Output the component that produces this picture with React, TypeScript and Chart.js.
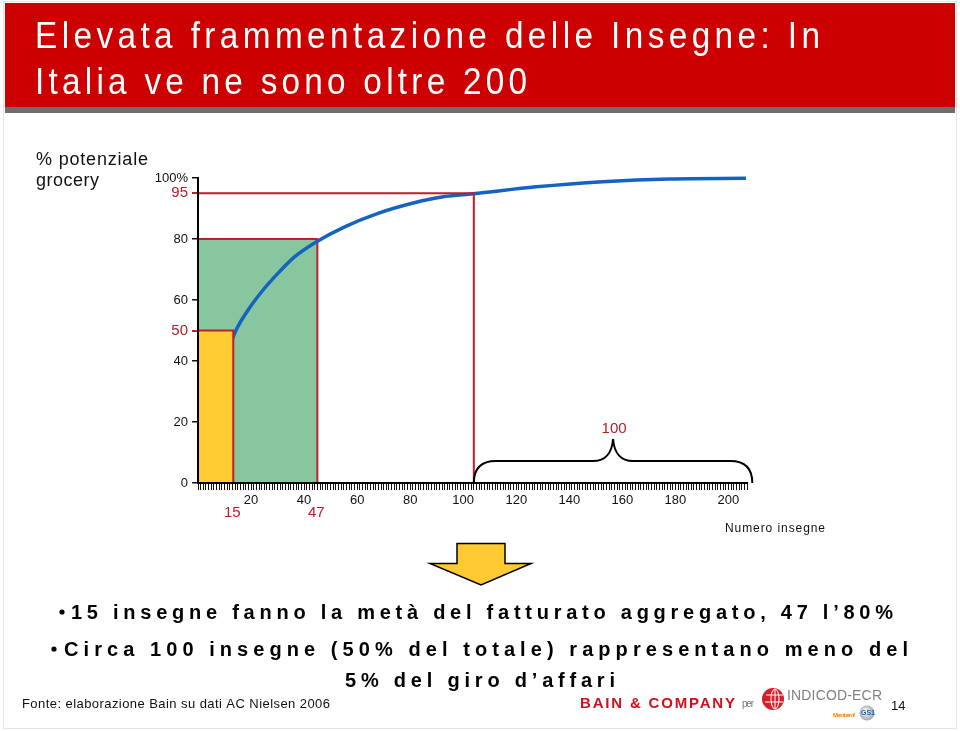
import React, { useEffect, useRef } from 'react';
import { Chart, registerables } from 'chart.js';

Chart.register(...registerables);

// ---------- data ----------
const xMax = 207;
const xTickLabelValues = [20, 40, 60, 80, 100, 120, 140, 160, 180, 200];
const yTickValues = [0, 20, 40, 50, 60, 80, 95, 100];
const yHighlightTicks = [50, 95];

// cumulative share curve (x = numero insegne, y = % potenziale grocery)
const curveX = [0.4, 13.3, 18.9, 24.0, 30.2, 36.5, 44.7, 55.3, 67.9, 80.8, 93.0, 103.7, 127.5, 152.6, 177.7, 206.6];
const curveY = [9.8, 48.0, 56.7, 62.7, 68.8, 74.2, 79.1, 84.0, 88.4, 91.7, 93.9, 94.8, 97.1, 98.8, 99.7, 99.9];

// highlighted boxes / guide lines (x position, y level)
const halfBoxX = 13.3;
const halfBoxY = 50;
const eightyBoxX = 45;
const eightyBoxY = 80;
const ninetyFiveX = 104;
const ninetyFiveY = 95;
const markerLabels = ['15', '47'];
const braceStart = 104;
const braceEnd = 209;
const braceLabel = '100';

const titleLines = ['Elevata frammentazione delle Insegne: In', 'Italia ve ne sono oltre 200'];
const bulletLines = [
  '15 insegne fanno la metà del fatturato aggregato, 47 l\u201980%',
  'Circa 100 insegne (50% del totale) rappresentano meno del',
  '5% del giro d\u2019affari',
];
const sourceText = 'Fonte: elaborazione Bain su dati AC Nielsen 2006';
const pageNumber = '14';

// ---------- styles ----------
const FAMILY = '"Liberation Sans", Arial, Helvetica, sans-serif';
const RED = '#BE1E2D';
const LABEL_RED = '#B5202A';
const YELLOW = '#FFCC33';
const GREEN = '#88C6A0';
const BLUE = '#1463BE';

function fitText(
  ctx: CanvasRenderingContext2D,
  text: string,
  x: number,
  y: number,
  width: number,
  font: string,
  color: string,
  sx = 1,
  align: 'left' | 'center' = 'left'
) {
  ctx.save();
  ctx.font = font;
  ctx.fillStyle = color;
  ctx.textAlign = 'left';
  ctx.textBaseline = 'alphabetic';
  (ctx as any).letterSpacing = '0px';
  const n = Array.from(text).length;
  const w0 = ctx.measureText(text).width;
  const target = width / sx;
  const ls = n > 1 ? (target - w0) / (n - 1) : 0;
  (ctx as any).letterSpacing = ls + 'px';
  ctx.translate(align === 'center' ? x - width / 2 : x, y);
  ctx.scale(sx, 1);
  ctx.fillText(text, 0, 0);
  ctx.restore();
}

const slidePlugin = {
  id: 'slideDecor',
  afterDatasetsDraw(chart: any) {
    const ctx: CanvasRenderingContext2D = chart.ctx;
    const { left, right, top, bottom } = chart.chartArea;
    ctx.save();
    ctx.strokeStyle = '#000';
    ctx.lineWidth = 2;
    ctx.beginPath();
    ctx.moveTo(left, top);
    ctx.lineTo(left, bottom);
    ctx.lineTo(right, bottom);
    ctx.stroke();
    ctx.restore();
  },
  afterDraw(chart: any) {
    const ctx: CanvasRenderingContext2D = chart.ctx;
    const xs = chart.scales.x;
    const ys = chart.scales.y;

    // slide border
    ctx.save();
    ctx.strokeStyle = '#E4E4E4';
    ctx.lineWidth = 1;
    ctx.strokeRect(3.5, 1.5, 953, 727);

    // title banner
    ctx.fillStyle = '#CC0000';
    ctx.fillRect(5, 3, 950, 104);
    ctx.fillStyle = '#6E6E6E';
    ctx.fillRect(5, 107, 950, 6);
    ctx.restore();
    fitText(ctx, titleLines[0], 35, 48, 785, `37px ${FAMILY}`, '#FFFFFF', 0.9);
    fitText(ctx, titleLines[1], 35, 94, 492, `37px ${FAMILY}`, '#FFFFFF', 0.9);

    // y axis title
    fitText(ctx, '% potenziale', 36, 165, 112, `18px ${FAMILY}`, '#111');
    fitText(ctx, 'grocery', 36, 186, 63, `18px ${FAMILY}`, '#111');

    // x axis title
    fitText(ctx, 'Numero insegne', 725, 532, 100, `12px ${FAMILY}`, '#111');

    // red marker labels under the x axis
    ctx.save();
    ctx.font = `15px ${FAMILY}`;
    ctx.fillStyle = LABEL_RED;
    ctx.textAlign = 'center';
    ctx.textBaseline = 'middle';
    ctx.fillText(markerLabels[0], xs.getPixelForValue(halfBoxX) - 1, 513);
    ctx.fillText(markerLabels[1], xs.getPixelForValue(eightyBoxX) - 1, 513);
    ctx.restore();

    // brace
    const L = xs.getPixelForValue(braceStart);
    const R = xs.getPixelForValue(braceEnd);
    const M = (L + R) / 2;
    const B = ys.getPixelForValue(0);
    ctx.save();
    ctx.strokeStyle = '#000';
    ctx.lineWidth = 2;
    ctx.beginPath();
    ctx.moveTo(L, B);
    ctx.bezierCurveTo(L, B - 14, L + 7, B - 22, L + 22, B - 22);
    ctx.lineTo(M - 20, B - 22);
    ctx.bezierCurveTo(M - 8, B - 22, M - 1, B - 30, M, B - 44);
    ctx.bezierCurveTo(M + 1, B - 30, M + 8, B - 22, M + 20, B - 22);
    ctx.lineTo(R - 22, B - 22);
    ctx.bezierCurveTo(R - 7, B - 22, R, B - 14, R, B);
    ctx.stroke();
    ctx.font = `15px ${FAMILY}`;
    ctx.fillStyle = LABEL_RED;
    ctx.textAlign = 'center';
    ctx.textBaseline = 'middle';
    ctx.fillText(braceLabel, M + 1, B - 54);
    ctx.restore();

    // arrow
    ctx.save();
    ctx.beginPath();
    ctx.moveTo(457, 543.5);
    ctx.lineTo(505, 543.5);
    ctx.lineTo(505, 563.5);
    ctx.lineTo(531, 563.5);
    ctx.lineTo(481, 585);
    ctx.lineTo(430, 563.5);
    ctx.lineTo(457, 563.5);
    ctx.closePath();
    ctx.fillStyle = '#FFC933';
    ctx.fill();
    ctx.strokeStyle = '#000';
    ctx.lineWidth = 1.5;
    ctx.lineJoin = 'miter';
    ctx.stroke();
    ctx.restore();

    // bullets
    const bulletFont = `bold 20px ${FAMILY}`;
    ctx.save();
    ctx.fillStyle = '#000';
    ctx.beginPath();
    ctx.arc(62, 612, 2.6, 0, Math.PI * 2);
    ctx.arc(54, 649, 2.6, 0, Math.PI * 2);
    ctx.fill();
    ctx.restore();
    fitText(ctx, bulletLines[0], 71, 619, 822, bulletFont, '#000');
    fitText(ctx, bulletLines[1], 64, 656, 844, bulletFont, '#000');
    fitText(ctx, bulletLines[2], 345, 687, 270, bulletFont, '#000');

    // footer
    fitText(ctx, sourceText, 22, 708, 308, `13px ${FAMILY}`, '#111');
    fitText(ctx, 'BAIN & COMPANY', 580, 708, 155, `bold 15px ${FAMILY}`, '#D0101C');
    fitText(ctx, 'per', 742, 707, 12, `10px ${FAMILY}`, '#777');

    // INDICOD logo
    ctx.save();
    ctx.fillStyle = '#D4202A';
    ctx.beginPath();
    ctx.arc(773, 699, 11, 0, Math.PI * 2);
    ctx.fill();
    ctx.strokeStyle = '#FFFFFF';
    ctx.lineWidth = 1;
    ctx.beginPath();
    ctx.ellipse(775, 699, 4, 10, 0, 0, Math.PI * 2);
    ctx.moveTo(775, 689);
    ctx.lineTo(775, 709);
    ctx.moveTo(766, 695);
    ctx.lineTo(783, 695);
    ctx.moveTo(765, 702);
    ctx.lineTo(783, 702);
    ctx.stroke();
    ctx.restore();
    fitText(ctx, 'INDICOD-ECR', 787, 700, 95, `14px ${FAMILY}`, '#808080');
    fitText(ctx, 'Member of', 833, 717, 22, `bold 6px ${FAMILY}`, '#E8841A');
    ctx.save();
    const g = ctx.createRadialGradient(865, 711, 1, 867, 713, 8);
    g.addColorStop(0, '#FFFFFF');
    g.addColorStop(1, '#9AA3AD');
    ctx.fillStyle = g;
    ctx.beginPath();
    ctx.arc(867, 713, 7.5, 0, Math.PI * 2);
    ctx.fill();
    ctx.font = `bold 7px ${FAMILY}`;
    ctx.fillStyle = '#1B5FA8';
    ctx.textAlign = 'center';
    ctx.textBaseline = 'middle';
    ctx.fillText('GS1', 868, 713.5);

    ctx.font = `13px ${FAMILY}`;
    ctx.fillStyle = '#111';
    ctx.textAlign = 'left';
    ctx.textBaseline = 'alphabetic';
    ctx.fillText(pageNumber, 891, 710);
    ctx.restore();
  },
};

export default function App() {
  const canvasRef = useRef<HTMLCanvasElement | null>(null);

  useEffect(() => {
    document.body.style.margin = '0';
    const canvas = canvasRef.current;
    if (!canvas) return;

    const curve = curveX.map((x, i) => ({ x, y: curveY[i] }));
    const isHi = (v: number) => yHighlightTicks.includes(v);

    const chart = new Chart(canvas, {
      type: 'scatter',
      data: {
        datasets: [
          {
            label: '95%',
            data: [
              { x: 0, y: ninetyFiveY },
              { x: ninetyFiveX, y: ninetyFiveY },
              { x: ninetyFiveX, y: 0 },
            ],
            showLine: true,
            borderColor: RED,
            borderWidth: 2,
            pointRadius: 0,
            fill: false,
            tension: 0,
            clip: false,
          } as any,
          {
            label: '50%',
            data: [
              { x: 0, y: halfBoxY },
              { x: halfBoxX, y: halfBoxY },
              { x: halfBoxX, y: 0 },
            ],
            showLine: true,
            borderColor: RED,
            borderWidth: 2,
            backgroundColor: YELLOW,
            pointRadius: 0,
            fill: 'origin',
            tension: 0,
            clip: false,
          } as any,
          {
            label: 'curve',
            data: curve,
            showLine: true,
            borderColor: BLUE,
            borderWidth: 3.5,
            pointRadius: 0,
            fill: false,
            cubicInterpolationMode: 'monotone',
            clip: 6,
          } as any,
          {
            label: '80%',
            data: [
              { x: 0, y: eightyBoxY },
              { x: eightyBoxX, y: eightyBoxY },
              { x: eightyBoxX, y: 0 },
            ],
            showLine: true,
            borderColor: RED,
            borderWidth: 2,
            backgroundColor: GREEN,
            pointRadius: 0,
            fill: 'origin',
            tension: 0,
            clip: false,
          } as any,
        ],
      },
      options: {
        animation: false,
        responsive: false,
        maintainAspectRatio: false,
        layout: { padding: { left: 128, right: 213, top: 178, bottom: 208 } },
        plugins: { legend: { display: false }, tooltip: { enabled: false } },
        scales: {
          x: {
            type: 'linear',
            min: 0,
            max: xMax,
            afterFit: (s: any) => {
              s.height = 40;
            },
            border: { display: true, color: '#000', width: 2 },
            grid: { drawOnChartArea: false, drawTicks: true, tickLength: 7, color: '#111', lineWidth: 1 },
            ticks: {
              stepSize: 1,
              autoSkip: false,
              maxRotation: 0,
              minRotation: 0,
              padding: 3,
              color: '#111',
              font: { size: 13, family: FAMILY },
              callback: (v: any) => (xTickLabelValues.includes(Number(v)) ? String(v) : ''),
            },
          },
          y: {
            type: 'linear',
            min: 0,
            max: 100,
            afterFit: (s: any) => {
              s.width = 70;
            },
            afterBuildTicks: (s: any) => {
              s.ticks = yTickValues.map((v) => ({ value: v }));
            },
            border: { display: true, color: '#000', width: 2 },
            grid: {
              drawOnChartArea: false,
              drawTicks: true,
              tickLength: 6,
              color: (c: any) => (c.tick && isHi(c.tick.value) ? RED : '#111'),
              lineWidth: (c: any) => (c.tick && isHi(c.tick.value) ? 2 : 1.5),
            },
            ticks: {
              padding: 4,
              color: (c: any) => (c.tick && isHi(c.tick.value) ? LABEL_RED : '#111'),
              font: (c: any) => ({ size: c.tick && isHi(c.tick.value) ? 15 : 13, family: FAMILY }),
              callback: (v: any) => (Number(v) === 100 ? '100%' : String(v)),
            },
          },
        },
      },
      plugins: [slidePlugin],
    });

    return () => {
      chart.destroy();
    };
  }, []);

  return (
    <div style={{ position: 'absolute', left: 0, top: 0, width: 960, height: 731, background: '#fff' }}>
      <canvas ref={canvasRef} width={960} height={731} style={{ display: 'block' }} />
    </div>
  );
}
